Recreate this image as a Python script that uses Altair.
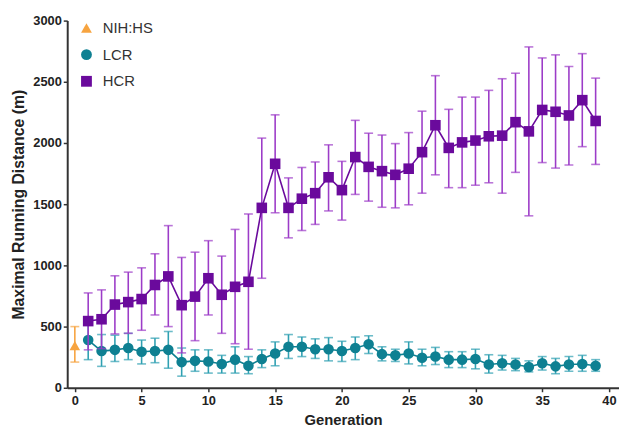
import altair as alt
import pandas as pd

# ---------------- data ----------------
generations = list(range(1, 40))

hcr_mean = [545, 560, 680, 700, 725, 840, 910, 675, 745, 895, 760, 825, 866, 1470,
            1830, 1470, 1545, 1590, 1720, 1615, 1885, 1805, 1770, 1740, 1790, 1925,
            2145, 1960, 2005, 2020, 2055, 2060, 2170, 2095, 2270, 2255, 2225, 2350, 2180]
hcr_hi = [775, 800, 915, 945, 980, 1095, 1325, 1065, 1108, 1202, 1076, 1294, 1420, 2040,
          2230, 1715, 1800, 1845, 1985, 1850, 2185, 2080, 2065, 1995, 2085, 2260,
          2550, 2275, 2375, 2375, 2430, 2525, 2570, 2785, 2695, 2720, 2625, 2730, 2530]
hcr_lo = [310, 320, 440, 445, 470, 595, 500, 285, 385, 595, 445, 360, 315, 895,
          1430, 1225, 1285, 1335, 1445, 1370, 1580, 1525, 1475, 1470, 1495, 1590,
          1740, 1635, 1635, 1655, 1675, 1590, 1760, 1405, 1840, 1795, 1820, 1970, 1825]

lcr_mean = [390, 300, 310, 325, 295, 300, 310, 210, 220, 215, 195, 230, 180, 235,
            280, 335, 335, 315, 315, 300, 325, 355, 275, 265, 280, 245,
            255, 230, 230, 235, 190, 200, 190, 170, 200, 175, 190, 195, 180]
lcr_hi = [560, 435, 430, 445, 390, 405, 460, 325, 310, 310, 265, 335, 255, 310,
          375, 435, 415, 400, 410, 380, 415, 425, 335, 315, 375, 315,
          330, 295, 295, 315, 270, 265, 240, 220, 255, 240, 255, 265, 230]
lcr_lo = [230, 175, 215, 230, 195, 205, 160, 95, 135, 120, 120, 120, 115, 165,
          180, 240, 255, 240, 220, 215, 230, 280, 220, 215, 195, 180,
          190, 165, 165, 155, 120, 145, 140, 130, 145, 115, 135, 135, 135]

nih_gen = [0]
nih_mean = [345]
nih_hi = [500]
nih_lo = [210]

groups = ["NIH:HS", "LCR", "HCR"]
marker_colors = ["#F7A440", "#0E8092", "#6A0A9C"]
error_colors = ["#F7A440", "#2FA0B2", "#9C3CC8"]
shapes = ["triangle-up", "circle", "square"]

x_ticks = [0, 5, 10, 15, 20, 25, 30, 35, 40]
y_ticks = [0, 500, 1000, 1500, 2000, 2500, 3000]

# ---------------- table ----------------
rows = []
for g, m, lo, hi in zip(nih_gen, nih_mean, nih_lo, nih_hi):
    rows.append(dict(gen=g, mean=m, lo=lo, hi=hi, group="NIH:HS"))
for g, m, lo, hi in zip(generations, lcr_mean, lcr_lo, lcr_hi):
    rows.append(dict(gen=g, mean=m, lo=lo, hi=hi, group="LCR"))
for g, m, lo, hi in zip(generations, hcr_mean, hcr_lo, hcr_hi):
    rows.append(dict(gen=g, mean=m, lo=lo, hi=hi, group="HCR"))
df = pd.DataFrame(rows)

FONT = "Liberation Sans"

xscale = alt.Scale(domain=[-0.57, 40.75], nice=False, zero=False)
yscale = alt.Scale(domain=[0, 3000], nice=False)

X = alt.X("gen:Q", scale=xscale,
          axis=alt.Axis(values=x_ticks, title="Generation", labelPadding=3,
                        titlePadding=5, format="d"))
Y = alt.Y("mean:Q", scale=yscale,
          axis=alt.Axis(values=y_ticks, title="Maximal Running Distance (m)",
                        labelPadding=2, titlePadding=6, format="d",
                        titleFontSize=16))

color_enc = alt.Color("group:N", scale=alt.Scale(domain=groups, range=marker_colors),
                      legend=alt.Legend(title=None))
shape_enc = alt.Shape("group:N", scale=alt.Scale(domain=groups, range=shapes),
                      legend=alt.Legend(title=None))

layers = []
for grp in ["LCR", "HCR", "NIH:HS"]:
    i = groups.index(grp)
    mc, ec = marker_colors[i], error_colors[i]
    base = alt.Chart(df).transform_filter(alt.datum.group == grp)
    rule = base.mark_rule(color=ec, strokeWidth=1.6).encode(
        x=X, y=alt.Y("lo:Q", scale=yscale), y2="hi:Q")
    cap_hi = base.mark_tick(color=ec, orient="horizontal", size=9, thickness=1.6).encode(
        x=X, y=alt.Y("hi:Q", scale=yscale))
    cap_lo = base.mark_tick(color=ec, orient="horizontal", size=9, thickness=1.6).encode(
        x=X, y=alt.Y("lo:Q", scale=yscale))
    layers += [rule, cap_hi, cap_lo]
    if grp != "NIH:HS":
        line = base.mark_line(color=mc, strokeWidth=1.6).encode(x=X, y=Y)
        layers.append(line)
    pts = base.mark_point(filled=True, opacity=1, size=115).encode(
        x=X, y=Y, color=color_enc, shape=shape_enc)
    layers.append(pts)

chart = alt.layer(*layers).properties(
    width=559, height=372,
    autosize=alt.AutoSizeParams(type="none"),
    padding={"left": 60, "top": 10, "right": 0, "bottom": 40},
).configure_view(stroke=None).configure_axis(
    grid=False,
    domainColor="#333333", domainWidth=2,
    tickColor="#333333", tickWidth=1.5, tickSize=4,
    labelFont=FONT, labelFontWeight="bold", labelFontSize=13, labelColor="#222222",
    titleFont=FONT, titleFontWeight="bold", titleFontSize=15, titleColor="#222222",
).configure_legend(
    orient="none", legendX=12, legendY=0, padding=0,
    labelFont=FONT, labelFontSize=15, labelColor="#333333", labelOffset=9,
    symbolSize=120, symbolStrokeWidth=0, rowPadding=11,
)

chart.save("out.html", embed_options={"renderer": "svg", "actions": False})
